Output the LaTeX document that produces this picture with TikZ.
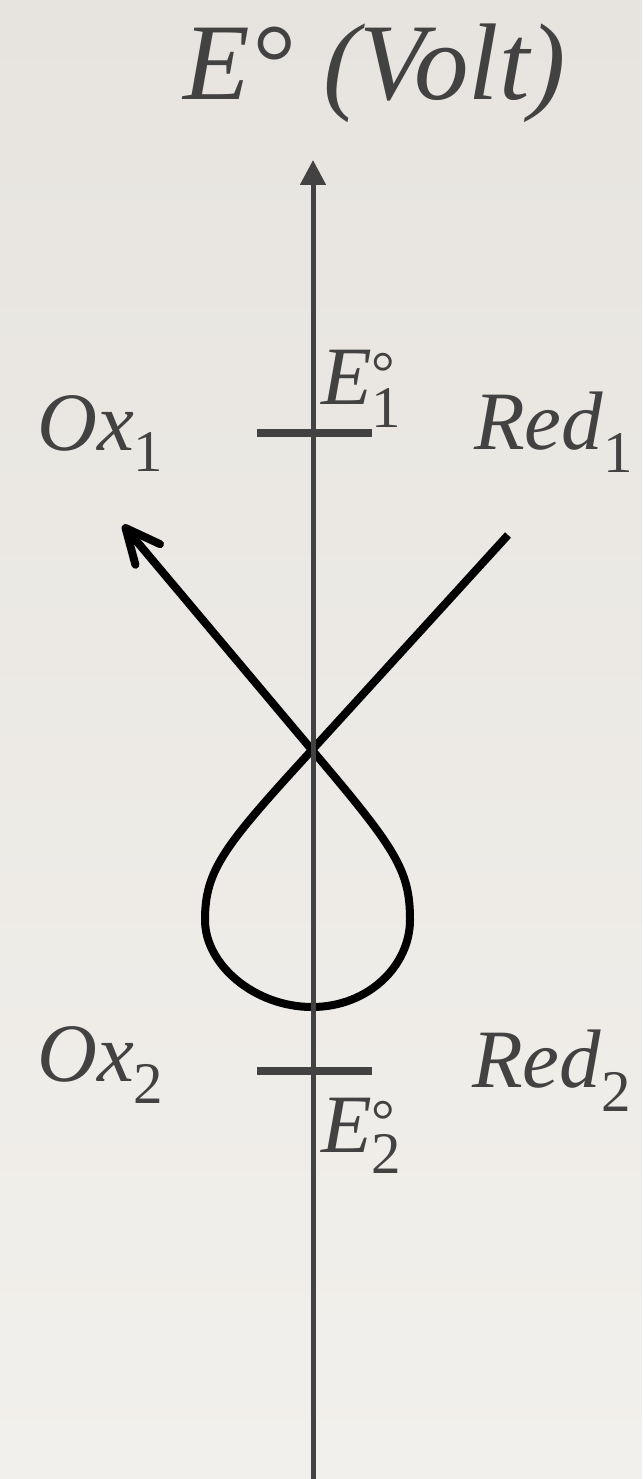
\documentclass[tikz,border=0pt]{standalone}
\usepackage{fontspec}
\setmainfont{Liberation Serif}
\usetikzlibrary{arrows.meta}
\definecolor{ink}{HTML}{424242}
\definecolor{bgtop}{HTML}{E7E4DF}
\definecolor{bgbot}{HTML}{F2F0EC}
\newcommand{\labsz}{\fontsize{83}{90}\selectfont\itshape}
\newcommand{\subsz}{\fontsize{59}{60}\selectfont\upshape}
\begin{document}
\begin{tikzpicture}[x=1pt,y=-1pt,
  lab/.style={anchor=base west,inner sep=0pt,text=ink},
  axisline/.style={draw=ink,line width=5pt},
  tick/.style={draw=ink,line width=8pt},
  curve/.style={draw=black,line width=8pt,line join=round}]
\useasboundingbox (0,0) rectangle (642,1479);
\shade[top color=bgtop,bottom color=bgbot] (0,0) rectangle (642,1479);
% curve
\coordinate (r1) at (508,535);
\coordinate (X) at (312,750);
\coordinate (L) at (205,920);
\coordinate (B) at (312,1007);
\coordinate (R) at (410,920);
\coordinate (o1) at (123,525);
\draw[curve,-{Straight Barb[angle=50:38pt,round]}] (r1) -- (X)
  .. controls (224,846) and (205,870) .. (L)
  .. controls (205,965) and (255,1007) .. (B)
  .. controls (369,1007) and (410,965) .. (R)
  .. controls (410,870) and (396,849) .. (X) -- (o1);
% axis
\coordinate (axb) at (313,1490);
\coordinate (axt) at (313,160);
\draw[axisline,-{Triangle[length=25pt,width=25pt]}] (axb) -- (axt);
\coordinate (t1l) at (257,433); \coordinate (t1r) at (372,433);
\coordinate (t2l) at (257,1071); \coordinate (t2r) at (372,1071);
\draw[tick] (t1l) -- (t1r);
\draw[tick] (t2l) -- (t2r);
% labels
\node[lab] (title) at (183,100) {\fontsize{109}{120}\selectfont\itshape E°\hspace{30pt}(Volt)};
\node[lab] (ox1) at (37,450) {\labsz Ox\raisebox{-21pt}{\subsz 1}};
\node[lab] (red1) at (474,449) {\labsz Red\raisebox{-23pt}{\subsz 1}};
\node[lab] (e1) at (321,404) {\labsz E\makebox[0pt][l]{\raisebox{12pt}{\subsz °}}\raisebox{-23pt}{\subsz 1}};
\node[lab] (ox2) at (37,1081) {\labsz Ox\raisebox{-22pt}{\subsz 2}};
\node[lab] (red2) at (472,1087) {\labsz Red\raisebox{-24pt}{\subsz 2}};
\node[lab] (e2) at (321,1152) {\labsz E\makebox[0pt][l]{\raisebox{12pt}{\subsz °}}\raisebox{-21pt}{\subsz 2}};
\end{tikzpicture}
\end{document}
